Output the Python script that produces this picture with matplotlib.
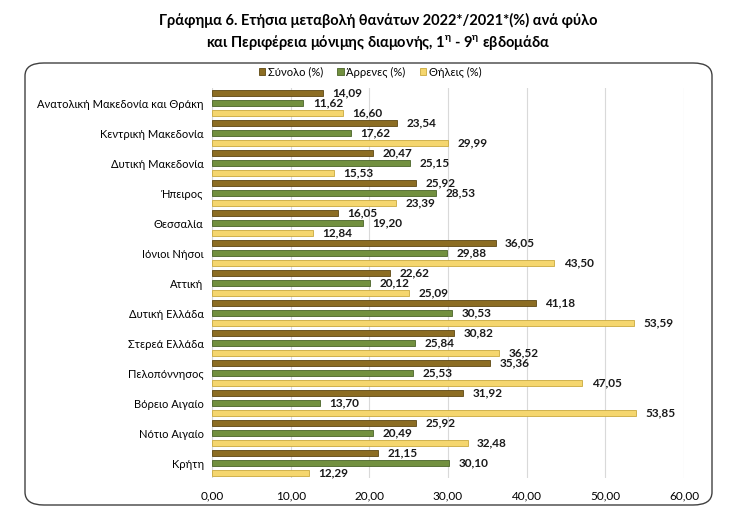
import numpy as np
import matplotlib
matplotlib.use('Agg')
import matplotlib.pyplot as plt
from matplotlib.patches import FancyBboxPatch, Rectangle

plt.rcParams['font.family'] = ['Lato', 'Noto Sans', 'DejaVu Sans']

regions = ["Ανατολική Μακεδονία και Θράκη", "Κεντρική Μακεδονία", "Δυτική Μακεδονία",
           "Ήπειρος", "Θεσσαλία", "Ιόνιοι Νήσοι", "Αττική", "Δυτική Ελλάδα",
           "Στερεά Ελλάδα", "Πελοπόννησος", "Βόρειο Αιγαίο", "Νότιο Αιγαίο", "Κρήτη"]
total = [14.09, 23.54, 20.47, 25.92, 16.05, 36.05, 22.62, 41.18, 30.82, 35.36, 31.92, 25.92, 21.15]
males = [11.62, 17.62, 25.15, 28.53, 19.20, 29.88, 20.12, 30.53, 25.84, 25.53, 13.70, 20.49, 30.10]
females = [16.60, 29.99, 15.53, 23.39, 12.84, 43.50, 25.09, 53.59, 36.52, 47.05, 53.85, 32.48, 12.29]
series_names = ["Σύνολο (%)", "Άρρενες (%)", "Θήλεις (%)"]
xticks = [0, 10, 20, 30, 40, 50, 60]

colors = ['#8C6D23', '#72903F', '#F5D66E']
edges = ['#5E4812', '#4B6428', '#C9A93E']

fig = plt.figure(figsize=(7.56, 5.14), dpi=100)
fig.patch.set_facecolor('white')

# rounded chart frame
W, H = 756, 514
frame = FancyBboxPatch((25 / W, 9 / H), 687 / W, 442 / H,
                       boxstyle="round,pad=0,rounding_size=0.025",
                       transform=fig.transFigure, facecolor='none',
                       edgecolor='#404040', linewidth=1.0, zorder=-1)
fig.patches.append(frame)

fig.text(0.5, 1 - 20 / H, "Γράφημα 6. Ετήσια μεταβολή θανάτων 2022*/2021*(%) ανά φύλο",
         ha='center', va='center', fontsize=10.5, fontweight='bold')
fig.text(0.5, 1 - 42 / H,
         "και Περιφέρεια μόνιμης διαμονής, 1$^{\\mathregular{η}}$ - 9$^{\\mathregular{η}}$ εβδομάδα",
         ha='center', va='center', fontsize=10.5, fontweight='bold')

ax = fig.add_axes([212 / W, 36 / H, 472 / W, 390 / H])
ax.set_facecolor('none')

y = np.arange(len(regions))
offsets = [-0.33, 0.0, 0.33]
bar_h = 0.22
for vals, off, c, e in zip([total, males, females], offsets, colors, edges):
    bars = ax.barh(y + off, vals, height=bar_h, color=c, edgecolor=e, linewidth=0.6, zorder=3)
    for b, v in zip(bars, vals):
        ax.text(v + 1.2, b.get_y() + b.get_height() / 2, f"{v:.2f}".replace('.', ','),
                va='center', ha='left', fontsize=8.5, fontweight='bold', color='#1a1a1a', zorder=4)

ax.set_xlim(0, 60)
ax.set_ylim(len(regions) - 0.5, -0.5)
ax.set_xticks(xticks)
ax.set_xticklabels([f"{t:.2f}".replace('.', ',') for t in xticks], fontsize=8.5)
ax.set_yticks(y)
ax.set_yticklabels(regions, fontsize=8)
ax.tick_params(axis='x', length=0, pad=9)
ax.tick_params(axis='y', length=0, pad=6)
ax.grid(axis='x', color='#D9D9D9', linewidth=0.8, zorder=0)
for s in ax.spines.values():
    s.set_visible(False)

handles = [Rectangle((0, 0), 1, 1, facecolor=c, edgecolor=e, linewidth=0.6) for c, e in zip(colors, edges)]
fig.legend(handles, series_names, loc='center', bbox_to_anchor=(370 / W, 1 - 72 / H),
           ncol=3, frameon=False, fontsize=8, handlelength=0.6, handleheight=0.6,
           handletextpad=0.2, columnspacing=1.3)

fig.savefig("out.png", dpi=100, facecolor='white')
